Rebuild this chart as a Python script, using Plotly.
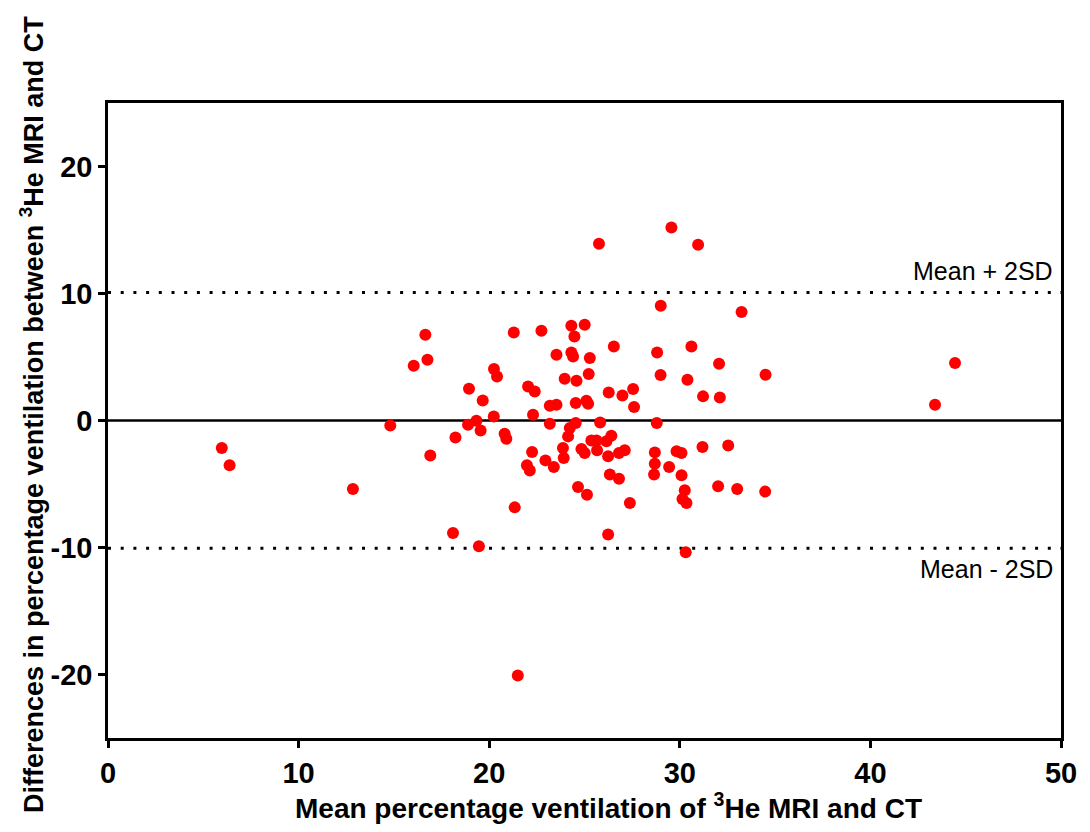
import plotly.graph_objects as go

# Bland-Altman data: mean percentage ventilation (x) and difference (y)
mean_ventilation = [
    5.97, 6.38, 12.85, 14.81, 16.91, 16.65, 16.76, 16.04, 21.29, 22.74,
    23.53, 20.25, 20.41, 22.04, 22.39, 18.94, 19.66, 23.18, 23.53, 22.30,
    20.24, 18.23, 18.89, 19.33, 19.55, 20.81, 20.90, 23.18, 22.25, 21.98,
    22.13, 22.95, 23.39, 21.34, 18.10, 19.46, 21.50, 29.56, 25.76, 30.96,
    29.00, 33.24, 24.31, 25.01, 24.47, 26.54, 30.61, 24.31, 24.40, 25.28,
    28.81, 32.06, 23.96, 24.58, 25.22, 28.99, 30.40, 26.27, 26.99, 27.55,
    31.22, 32.10, 24.54, 25.10, 25.19, 27.60, 24.54, 25.82, 28.79, 24.23,
    24.14, 26.41, 26.15, 25.36, 25.63, 23.87, 23.91, 24.84, 25.01, 25.66,
    26.24, 26.81, 27.11, 26.33, 26.81, 24.66, 25.13, 27.38, 26.24, 28.69,
    28.69, 28.65, 29.44, 29.83, 30.09, 30.09, 30.26, 30.14, 30.35, 31.19,
    32.54, 32.01, 33.01, 30.31, 34.50, 34.48, 44.44, 43.39,
]
difference = [
    -2.16, -3.53, -5.39, -0.39, -2.75, 6.75, 4.78, 4.31, 6.93, 7.07,
    5.18, 4.05, 3.47, 2.68, 2.29, 2.50, 1.58, 1.16, 1.24, 0.46,
    0.32, -1.33, -0.33, -0.02, -0.78, -1.04, -1.43, -0.25, -2.48, -3.53,
    -3.93, -3.14, -3.66, -6.84, -8.85, -9.91, -20.08, 15.19, 13.91, 13.83,
    9.03, 8.54, 7.46, 7.54, 6.62, 5.83, 5.83, 5.36, 5.04, 4.92,
    5.36, 4.47, 3.29, 3.13, 3.66, 3.58, 3.21, 2.21, 1.97, 2.48,
    1.90, 1.82, 1.38, 1.56, 1.32, 1.06, -0.20, -0.15, -0.20, -0.59,
    -1.25, -1.20, -1.64, -1.57, -1.57, -2.16, -2.95, -2.24, -2.56, -2.35,
    -2.82, -2.56, -2.35, -4.26, -4.58, -5.23, -5.84, -6.49, -8.98, -2.51,
    -3.40, -4.26, -3.66, -2.43, -2.56, -4.32, -5.50, -6.18, -6.49, -2.08,
    -1.96, -5.18, -5.39, -10.38, 3.60, -5.60, 4.52, 1.24,
]

mean_diff = 0.0
upper_limit = 10.07
lower_limit = -10.05
x_span = [0, 50]

x_ticks = [0, 10, 20, 30, 40, 50]
x_tick_labels = ["0", "10", "20", "30", "40", "50"]
y_ticks = [-20, -10, 0, 10, 20]
y_tick_labels = ["-20", "-10", "0", "10", "20"]

FONT = "Liberation Sans, Arial, sans-serif"

fig = go.Figure()

# Reference lines
fig.add_trace(go.Scatter(x=x_span, y=[upper_limit, upper_limit], mode="lines",
                         line=dict(color="black", width=3, dash="3px,9.7px"),
                         hoverinfo="skip", showlegend=False))
fig.add_trace(go.Scatter(x=x_span, y=[lower_limit, lower_limit], mode="lines",
                         line=dict(color="black", width=3, dash="3px,9.7px"),
                         hoverinfo="skip", showlegend=False))
fig.add_trace(go.Scatter(x=x_span, y=[mean_diff, mean_diff], mode="lines",
                         line=dict(color="black", width=2.5),
                         hoverinfo="skip", showlegend=False))

# Points
fig.add_trace(go.Scatter(x=mean_ventilation, y=difference, mode="markers",
                         marker=dict(color="#FF0000", size=12, line=dict(width=0)),
                         showlegend=False))

axis_common = dict(
    showline=True, linecolor="black", linewidth=2.5, mirror=True,
    ticks="outside", ticklen=7, tickwidth=2.5, tickcolor="black",
    showgrid=False, zeroline=False,
    tickfont=dict(family=FONT, size=29, color="black", weight="bold"),
)

fig.update_xaxes(range=[0, 50], tickvals=x_ticks, ticktext=x_tick_labels, **axis_common)
fig.update_yaxes(range=[-25, 25], tickvals=y_ticks, ticktext=y_tick_labels, **axis_common)

fig.add_annotation(text="Mean + 2SD", xref="x", yref="y", x=50, y=upper_limit,
                   xanchor="right", yanchor="bottom", xshift=-6, yshift=6, showarrow=False,
                   font=dict(family=FONT, size=25, color="black"))
fig.add_annotation(text="Mean - 2SD", xref="x", yref="y", x=50, y=lower_limit,
                   xanchor="right", yanchor="top", xshift=-6, yshift=-5, showarrow=False,
                   font=dict(family=FONT, size=25, color="black"))

# Axis titles (positions relative to plot area: left 108, right 1061, top 103, bottom 738)
fig.add_annotation(text="Mean percentage ventilation of <sup>3</sup>He MRI and CT",
                   xref="paper", yref="paper", x=(608 - 108) / 953, y=(738 - 806) / 635,
                   xanchor="center", yanchor="middle", showarrow=False,
                   font=dict(family=FONT, size=28, color="black", weight="bold"))
fig.add_annotation(text="Differences in percentage ventilation between <sup>3</sup>He MRI and CT",
                   xref="paper", yref="paper", x=(32 - 108) / 953, y=(738 - 415) / 635,
                   xanchor="center", yanchor="middle", textangle=-90, showarrow=False,
                   font=dict(family=FONT, size=27, color="black", weight="bold"))

# The page body has an 8px margin; size/margins chosen so the plot area lands
# at x 108-1061, y 103-738 in the 1090x832 window.
fig.update_layout(
    width=1082, height=824,
    margin=dict(l=100, r=29, t=95, b=94),
    plot_bgcolor="white", paper_bgcolor="white",
    font=dict(family=FONT, color="black"),
)

fig.write_html("out.html")
